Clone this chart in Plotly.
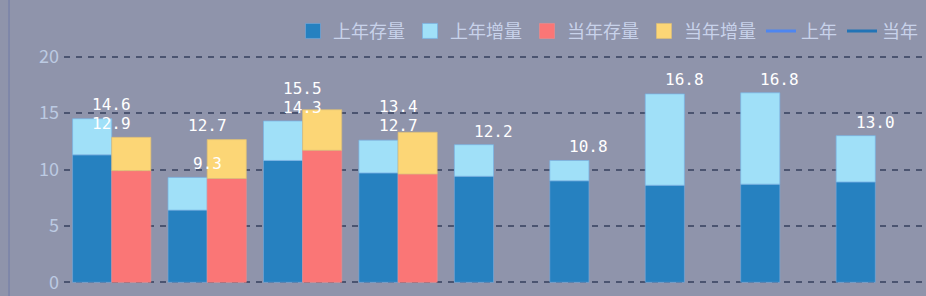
import plotly.graph_objects as go

categories = ["一", "二", "三", "四", "五", "六", "七", "八", "九"]
ly_base = [11.3, 6.4, 10.8, 9.7, 9.4, 9.0, 8.6, 8.7, 8.9]
ly_add = [3.2, 2.9, 3.5, 2.9, 2.8, 1.8, 8.1, 8.1, 4.1]
cy_base = [9.9, 9.2, 11.7, 9.6, None, None, None, None, None]
cy_add = [2.95, 3.45, 3.6, 3.7, None, None, None, None, None]
ly_total = [14.6, 9.3, 14.3, 12.7, 12.2, 10.8, 16.8, 16.8, 13.0]
cy_total = [12.9, 12.7, 15.5, 13.4, None, None, None, None, None]
y_ticks = [0, 5, 10, 15, 20]

names = ["上年存量", "上年增量", "当年存量", "当年增量", "上年", "当年"]
bar_colors = ["#2681c0", "#a0e0f8", "#fa7676", "#fcd676"]
bar_lines = ["rgba(120,170,220,0.6)", "rgba(120,180,230,0.7)",
             "rgba(240,140,140,0.6)", "rgba(220,190,120,0.7)"]
line_colors = ["#4f86f0", "#2274b6"]

BG = "#8f94ab"
H, T, B = 296, 55, 12
PAD = 0.15
Y_MIN, Y_MAX = -PAD, 20 + PAD
PX_PER_UNIT = (H - T - B) / (Y_MAX - Y_MIN)

fig = go.Figure()

series = [(ly_base, None, "ly"), (ly_add, ly_base, "ly"), (cy_base, None, "cy"), (cy_add, cy_base, "cy")]
for k, (vals, base, grp) in enumerate(series):
    fig.add_trace(go.Bar(x=categories, y=vals, base=base, name=names[k], offsetgroup=grp,
                         showlegend=False,
                         marker=dict(color=bar_colors[k], line=dict(color=bar_lines[k], width=1))))

# legend entries (square swatches for bars, short lines for line series)
for k in range(4):
    fig.add_trace(go.Scatter(x=[None], y=[None], mode="markers", name=names[k],
                             marker=dict(symbol="square", size=15, color=bar_colors[k],
                                         line=dict(color=bar_lines[k], width=1))))
for k in range(2):
    fig.add_trace(go.Scatter(x=[None], y=[None], mode="lines", name=names[4 + k],
                             line=dict(color=line_colors[k], width=3)))

# value labels with simple overlap avoidance (shift the higher label up)
BASE_SHIFT = 2
MIN_SEP = 19
for i, c in enumerate(categories):
    vals = [v for v in (ly_total[i], cy_total[i]) if v is not None]
    vals.sort()
    shifts = [BASE_SHIFT] * len(vals)
    if len(vals) == 2:
        sep = (vals[1] - vals[0]) * PX_PER_UNIT
        if sep < MIN_SEP:
            shifts[1] = BASE_SHIFT + (MIN_SEP - sep)
    for v, s in zip(vals, shifts):
        fig.add_annotation(x=c, y=v, text=f"{v:.1f}", showarrow=False,
                           yanchor="bottom", yshift=s,
                           font=dict(family="DejaVu Sans Mono", size=16, color="#ffffff"))

fig.update_layout(
    width=926, height=H,
    margin=dict(l=64, r=3, t=T, b=B, autoexpand=False),
    paper_bgcolor=BG, plot_bgcolor=BG,
    barmode="group", bargap=0.18, bargroupgap=0,
    font=dict(family="Noto Sans CJK SC", color="#c8d2ea"),
    legend=dict(orientation="h", x=1, xanchor="right", y=0.957, yanchor="top",
                yref="container", font=dict(size=18, color="#c8d2ea"),
                itemwidth=30, itemsizing="trace", bgcolor="rgba(0,0,0,0)"),
    showlegend=True,
)
fig.update_xaxes(showticklabels=False, showgrid=False, zeroline=False, showline=False, ticks="")
fig.update_yaxes(range=[Y_MIN, Y_MAX], tickvals=y_ticks, showgrid=True,
                 gridcolor="#4b5470", gridwidth=1.5,
                 griddash="6px,6px", zeroline=False, showline=False, ticks="",
                 tickfont=dict(size=18, color="#bccae2", family="Noto Sans CJK SC"),
                 ticklabelstandoff=4)
fig.add_shape(type="line", xref="paper", yref="paper", x0=-0.064, x1=-0.064, y0=-0.1, y1=1.3,
              line=dict(color="#7a82a8", width=1.5))

fig.write_html("out.html")
